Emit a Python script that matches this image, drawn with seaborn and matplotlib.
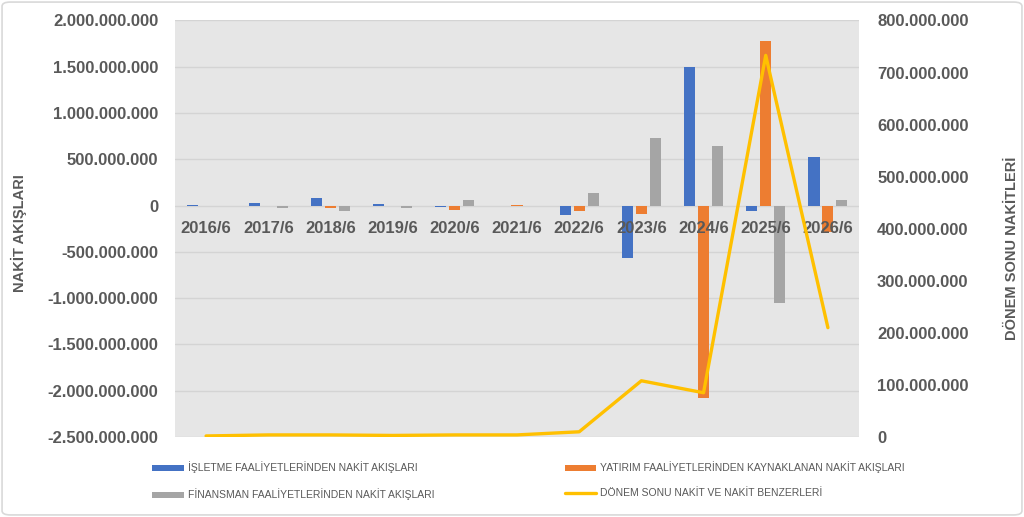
import numpy as np
import pandas as pd
import matplotlib
matplotlib.use('Agg')
import matplotlib.pyplot as plt
import seaborn as sns
from matplotlib.ticker import FuncFormatter, MultipleLocator
from matplotlib.patches import FancyBboxPatch

# Veriler (grafikten okunmuş yaklaşık değerler)
yillar = ['2016/6', '2017/6', '2018/6', '2019/6', '2020/6', '2021/6',
          '2022/6', '2023/6', '2024/6', '2025/6', '2026/6']
isletme = [0.01e9, 0.03e9, 0.08e9, 0.02e9, -0.01e9, 0.0,
           -0.105e9, -0.57e9, 1.50e9, -0.055e9, 0.52e9]
yatirim = [0.0, 0.0, -0.025e9, 0.0, -0.05e9, 0.01e9,
           -0.06e9, -0.094e9, -2.08e9, 1.775e9, -0.29e9]
finansman = [0.0, -0.025e9, -0.06e9, -0.025e9, 0.058e9, 0.0,
             0.133e9, 0.73e9, 0.64e9, -1.05e9, 0.065e9]
donem_sonu = [2e6, 4e6, 4e6, 3e6, 4e6, 4e6, 10e6, 108e6, 85e6, 733e6, 210e6]

seri_adlari = ['İŞLETME FAALİYETLERİNDEN NAKİT AKIŞLARI',
               'YATIRIM FAALİYETLERİNDEN KAYNAKLANAN NAKİT AKIŞLARI',
               'FİNANSMAN FAALİYETLERİNDEN NAKİT AKIŞLARI']
cizgi_adi = 'DÖNEM SONU NAKİT VE NAKİT BENZERLERİ'
renkler = ['#4472C4', '#ED7D31', '#A5A5A5']

df = pd.DataFrame({
    'Yıl': yillar * 3,
    'Seri': [seri_adlari[0]] * 11 + [seri_adlari[1]] * 11 + [seri_adlari[2]] * 11,
    'Değer': isletme + yatirim + finansman,
})

sns.set_style('white')
plt.rcParams['font.family'] = ['Liberation Sans', 'DejaVu Sans']
yazi_rengi = '#595959'

fig = plt.figure(figsize=(10.24, 5.17), dpi=100)
ax = fig.add_axes([175 / 1024, 1 - 437 / 517, 684 / 1024, 416.5 / 517])
ax.set_facecolor('#E6E6E6')

sns.barplot(data=df, x='Yıl', y='Değer', hue='Seri', hue_order=seri_adlari,
            palette=renkler, width=0.67, gap=0.2, ax=ax, saturation=1,
            linewidth=0, edgecolor='none')

ax.set_ylim(-2.5e9, 2.0e9)
ax.yaxis.set_major_locator(MultipleLocator(5e8))
bicim = FuncFormatter(lambda v, _: f'{v:,.0f}'.replace(',', '.'))
ax.yaxis.set_major_formatter(bicim)
ax.grid(axis='y', color='#D4D4D4', linewidth=1)
ax.set_axisbelow(True)
# x etiketleri çubukların üstünde kalsın
ax.xaxis.set_zorder(3)
for s in ax.spines.values():
    s.set_visible(False)
ax.spines['bottom'].set_position(('data', 0))
ax.tick_params(axis='x', length=0, pad=11, labelsize=12, labelcolor=yazi_rengi)
ax.tick_params(axis='y', length=0, pad=12, labelsize=12, labelcolor=yazi_rengi)
for t in ax.get_xticklabels() + ax.get_yticklabels():
    t.set_fontweight('bold')
ax.set_xlabel('')
ax.set_ylabel('NAKİT AKIŞLARI', fontsize=10.5, fontweight='bold', color=yazi_rengi)
ax.yaxis.set_label_coords((27 - 175) / 684, (437 - 233) / 416.5)

handles, labels = ax.get_legend_handles_labels()
ax.get_legend().remove()

# İkinci eksen: dönem sonu nakitler
ax2 = ax.twinx()
sns.lineplot(x=yillar, y=donem_sonu, ax=ax2, color='#FFC000', linewidth=2.4,
             legend=False, label=cizgi_adi)
ax2.set_ylim(0, 8e8)
ax2.yaxis.set_major_locator(MultipleLocator(1e8))
ax2.yaxis.set_major_formatter(bicim)
ax2.grid(False)
for s in ax2.spines.values():
    s.set_visible(False)
ax2.tick_params(axis='y', length=0, pad=13, labelsize=12, labelcolor=yazi_rengi)
for t in ax2.get_yticklabels():
    t.set_fontweight('bold')
ax2.set_ylabel('DÖNEM SONU NAKİTLERİ', fontsize=10.5, fontweight='bold', color=yazi_rengi)
ax2.yaxis.set_label_coords((1005 - 175) / 684, (437 - 248) / 416.5)
ax.set_xlim(-0.5, len(yillar) - 0.5)

h2, l2 = ax2.get_legend_handles_labels()
sira_h = [handles[0], handles[2], handles[1], h2[0]]
sira_l = [labels[0], labels[2], labels[1], cizgi_adi]
leg = fig.legend(sira_h, sira_l, ncol=2, loc='upper left',
                 bbox_to_anchor=(143 / 1024, 1 - 452 / 517), frameon=False,
                 fontsize=7.5, handlelength=3.0, handleheight=0.5,
                 handletextpad=0.4, labelspacing=1.45, columnspacing=12.5)
for t in leg.get_texts():
    t.set_color(yazi_rengi)

# Dış çerçeve
fig.patches.append(FancyBboxPatch((0.002, 0.004), 0.996, 0.992,
                                  boxstyle='round,pad=0,rounding_size=0.008',
                                  transform=fig.transFigure, fill=False,
                                  ec='#D9D9D9', lw=1.2))

fig.savefig('out.png', dpi=100)
